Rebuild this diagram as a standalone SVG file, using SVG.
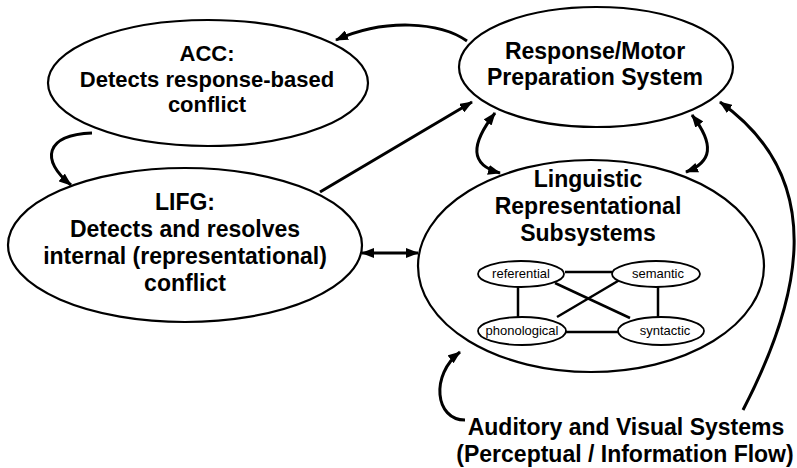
<svg xmlns="http://www.w3.org/2000/svg" width="797" height="468" viewBox="0 0 797 468">
<style>
.n{fill:#fff;stroke:#000;stroke-width:2.2}
.s{fill:#fff;stroke:#000;stroke-width:1.8}
.t{font-family:"Liberation Sans",Arial,sans-serif;font-weight:bold;font-size:23px;text-anchor:middle;fill:#000}
.st{font-family:"Liberation Sans",Arial,sans-serif;font-size:13px;text-anchor:middle;fill:#000}
.c{fill:none;stroke:#000;stroke-width:3}
.l{fill:none;stroke:#000;stroke-width:2.5}
</style>
<defs>
<marker id="ah" markerUnits="userSpaceOnUse" markerWidth="13" markerHeight="10" refX="12" refY="5" orient="auto-start-reverse">
<path d="M0,0 L13,5 L0,10 Z" fill="#000"/>
</marker>
</defs>
<g id="connectors">
<path class="c" d="M467 41 C440 22 385 18 336 40" marker-end="url(#ah)"/>
<path class="c" d="M92 133 C45 135 40 160 71 185" marker-end="url(#ah)"/>
<path class="c" d="M320 192 L472 102" marker-end="url(#ah)"/>
<path class="c" d="M362 253 L418 253" marker-start="url(#ah)" marker-end="url(#ah)"/>
<path class="c" d="M495 113 C470 145 470 165 500 173" marker-start="url(#ah)" marker-end="url(#ah)"/>
<path class="c" d="M692 115 C715 145 712 162 686 172" marker-start="url(#ah)" marker-end="url(#ah)"/>
<path class="c" d="M465 420 C435 420 430 375 460 352" marker-end="url(#ah)"/>
<path class="c" d="M743 410 C800 300 830 180 720 102" marker-end="url(#ah)"/>
</g>
<g id="acc">
<ellipse class="n" cx="208" cy="83" rx="160" ry="63"/>
<text class="t" style="font-size:22px" x="207" y="61">ACC:</text>
<text class="t" style="font-size:22px" x="207" y="87">Detects response-based</text>
<text class="t" style="font-size:22px" x="207" y="112">conflict</text>
</g>
<g id="response">
<ellipse class="n" cx="596" cy="67" rx="137" ry="60"/>
<text class="t" x="595" y="59">Response/Motor</text>
<text class="t" x="595" y="85">Preparation System</text>
</g>
<g id="lifg">
<ellipse class="n" cx="185" cy="245" rx="177" ry="77"/>
<text class="t" x="185" y="210">LIFG:</text>
<text class="t" x="185" y="237">Detects and resolves</text>
<text class="t" x="185" y="264">internal (representational)</text>
<text class="t" x="185" y="291">conflict</text>
</g>
<g id="linguistic">
<ellipse class="n" cx="591" cy="266" rx="173" ry="106"/>
<text class="t" x="588" y="187">Linguistic</text>
<text class="t" x="588" y="214">Representational</text>
<text class="t" x="588" y="241">Subsystems</text>
<g id="sublinks">
<line class="l" x1="565" y1="272" x2="612" y2="272"/>
<line class="l" x1="566" y1="332" x2="618" y2="332"/>
<line class="l" x1="518" y1="287" x2="518" y2="318"/>
<line class="l" x1="658" y1="287" x2="658" y2="318"/>
<line class="l" x1="555" y1="283" x2="630" y2="318"/>
<line class="l" x1="623" y1="278" x2="557" y2="317"/>
</g>
<g id="referential">
<ellipse class="s" cx="521" cy="274" rx="43" ry="13"/>
<text class="st" x="521" y="278">referential</text>
</g>
<g id="semantic">
<ellipse class="s" cx="656" cy="274" rx="44" ry="13"/>
<text class="st" x="658" y="278">semantic</text>
</g>
<g id="phonological">
<ellipse class="s" cx="522" cy="331" rx="44" ry="14"/>
<text class="st" x="522" y="335">phonological</text>
</g>
<g id="syntactic">
<ellipse class="s" cx="661" cy="331" rx="43" ry="14"/>
<text class="st" x="665" y="335">syntactic</text>
</g>
</g>
<g id="auditory">
<text class="t" x="626" y="435">Auditory and Visual Systems</text>
<text class="t" x="625" y="462">(Perceptual / Information Flow)</text>
</g>
</svg>
